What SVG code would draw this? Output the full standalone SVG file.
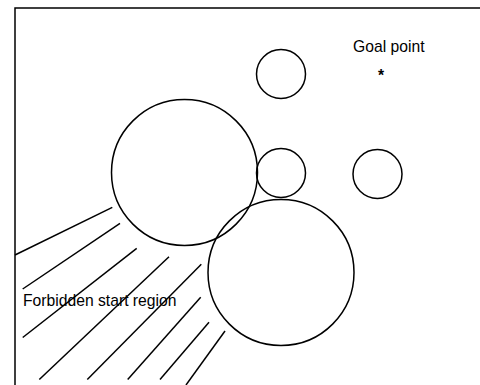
<svg xmlns="http://www.w3.org/2000/svg" width="480" height="385" viewBox="0 0 480 385">
<style>
.o{fill:none;stroke:#000;stroke-width:1.5}
.h{stroke:#000;stroke-width:1.5;fill:none}
.t{font-family:"Liberation Sans",Arial,sans-serif;font-size:15.7px;fill:#000}
</style>
<rect width="480" height="385" fill="#fff"/>
<path class="o" d="M15,385 V8 H480" stroke-width="2"/>
<g id="obstacle-top"><circle class="o" cx="281" cy="74" r="24.5"/></g>
<g id="obstacle-big-left"><circle class="o" cx="184.5" cy="172.5" r="73"/></g>
<g id="obstacle-mid"><circle class="o" cx="281" cy="173" r="24.5"/></g>
<g id="obstacle-right"><circle class="o" cx="377.5" cy="174" r="24.5"/></g>
<g id="obstacle-big-lower"><circle class="o" cx="281" cy="272.5" r="73"/></g>
<g id="goal"><text class="t" x="353" y="52">Goal point</text><text class="t" x="381" y="81" text-anchor="middle" font-size="13" font-weight="bold">*</text></g>
<g id="forbidden">
<g id="hatch">
<line class="h" x1="15" y1="255" x2="112.3" y2="207.3"/>
<line class="h" x1="22.7" y1="289" x2="120" y2="223.3"/>
<line class="h" x1="22.7" y1="337.5" x2="136.7" y2="248.3"/>
<line class="h" x1="39.3" y1="379.5" x2="169" y2="256.7"/>
<line class="h" x1="87.3" y1="379.5" x2="201.3" y2="264.3"/>
<line class="h" x1="127.7" y1="379.5" x2="200.7" y2="297.3"/>
<line class="h" x1="160" y1="379.5" x2="209" y2="322.3"/>
<line class="h" x1="186" y1="385" x2="225" y2="331"/>
</g>
<text class="t" x="23" y="306">Forbidden start region</text>
</g>
</svg>
